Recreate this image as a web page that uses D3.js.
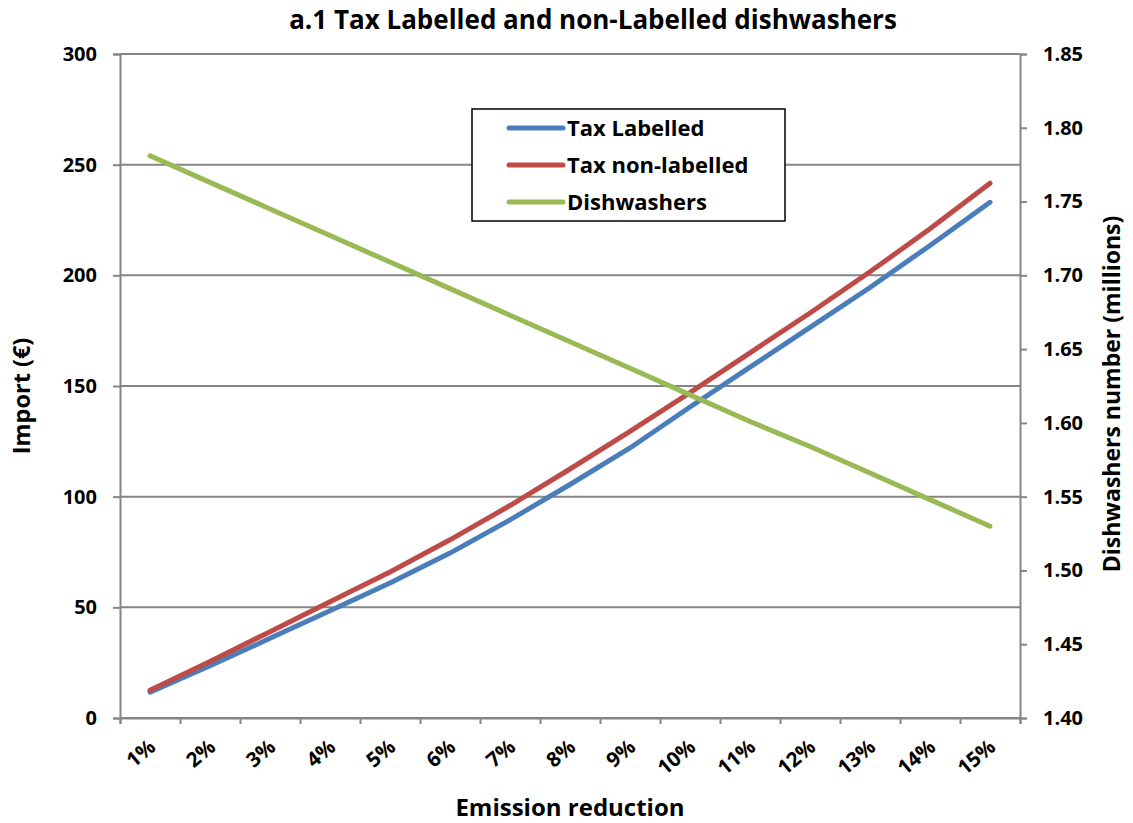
<!DOCTYPE html>
<html>
<head>
<meta charset="utf-8">
<script src="https://cdn.jsdelivr.net/npm/d3@7"></script>
<style>
  body { margin: 0; background: #fff; }
  text { font-family: "Open Sans", Lato, sans-serif; font-weight: bold; fill: #000; }
</style>
</head>
<body>
<div id="chart"></div>
<script>
// data
const categories = ["1%", "2%", "3%", "4%", "5%", "6%", "7%", "8%", "9%", "10%", "11%", "12%", "13%", "14%", "15%"];
const taxLabelled = [11.7, 23.6, 36.0, 48.5, 61.0, 74.5, 89.5, 105.5, 122.0, 140.5, 158.5, 176.5, 194.5, 213.5, 233.0];
const taxNonLabelled = [12.5, 25.5, 39.0, 52.5, 66.0, 80.5, 96.0, 112.5, 129.5, 147.0, 165.0, 183.0, 201.6, 221.0, 241.6];
const dishwashers = [1.781, 1.763, 1.745, 1.727, 1.709, 1.691, 1.673, 1.655, 1.637, 1.619, 1.601, 1.584, 1.566, 1.548, 1.530];
const leftTicks = [0, 50, 100, 150, 200, 250, 300];
const rightTicks = [1.40, 1.45, 1.50, 1.55, 1.60, 1.65, 1.70, 1.75, 1.80, 1.85];

const W = 1133, H = 823;
const margin = { top: 54, right: 113, bottom: 105, left: 120 };
const width = W - margin.left - margin.right,
    height = H - margin.top - margin.bottom;

const svg = d3.select("#chart").append("svg")
    .attr("width", W).attr("height", H);

const g = svg.append("g")
    .attr("transform", `translate(${margin.left},${margin.top})`);

const x = d3.scaleBand().domain(categories).range([0, width]).padding(0);
const xEdge = d3.scaleLinear().domain([0, categories.length]).range([0, width]);
const yLeft = d3.scaleLinear().domain([0, 300]).range([height, 0]);
const yRight = d3.scaleLinear().domain([1.40, 1.85]).range([height, 0]);

const axisColor = "#868686";

// gridlines
g.selectAll(".grid")
    .data(leftTicks)
    .join("line")
    .attr("x1", 0).attr("x2", width)
    .attr("y1", d => yLeft(d)).attr("y2", d => yLeft(d))
    .attr("stroke", axisColor).attr("stroke-width", 2);

// left axis
const gl = g.append("g")
    .call(d3.axisLeft(yLeft).tickValues(leftTicks).tickSize(7).tickPadding(16).tickFormat(d3.format("d")));
gl.selectAll("text").attr("font-size", 20);

// right axis
const gr = g.append("g")
    .attr("transform", `translate(${width},0)`)
    .call(d3.axisRight(yRight).tickValues(rightTicks).tickSize(7).tickPadding(16).tickFormat(d3.format(".2f")));
gr.selectAll("text").attr("font-size", 20);

// bottom axis: ticks on category boundaries
const gb = g.append("g")
    .attr("transform", `translate(0,${height})`)
    .call(d3.axisBottom(xEdge).tickValues(d3.range(categories.length + 1)).tickSize(6).tickFormat(""));

[gl, gr, gb].forEach(a => {
    a.select(".domain").attr("stroke", axisColor).attr("stroke-width", 2);
    a.selectAll(".tick line").attr("stroke", axisColor).attr("stroke-width", 2);
});

// category labels, rotated
g.selectAll(".xlab")
    .data(categories)
    .join("text")
    .attr("class", "xlab")
    .attr("font-size", 20.5)
    .attr("text-anchor", "end")
    .attr("transform", d => `translate(${x(d) + x.bandwidth() / 2 + 7},${height + 31}) rotate(-40)`)
    .text(d => d);

// lines
const lineL = d3.line()
    .x((d, i) => x(categories[i]) + x.bandwidth() / 2)
    .y(d => yLeft(d));
const lineR = d3.line()
    .x((d, i) => x(categories[i]) + x.bandwidth() / 2)
    .y(d => yRight(d));

const series = [
    { name: "Tax Labelled", values: taxLabelled, color: "#4A7EBB", line: lineL },
    { name: "Tax non-labelled", values: taxNonLabelled, color: "#BE4B48", line: lineL },
    { name: "Dishwashers", values: dishwashers, color: "#98B954", line: lineR }
];

series.forEach(s => {
    g.append("path")
        .datum(s.values)
        .attr("fill", "none")
        .attr("stroke", s.color)
        .attr("stroke-width", 5)
        .attr("stroke-linecap", "round")
        .attr("d", s.line);
});

// legend
const legend = svg.append("g").attr("transform", "translate(472,109)");
legend.append("rect")
    .attr("width", 313).attr("height", 112)
    .attr("fill", "#fff").attr("stroke", "#000").attr("stroke-width", 1.5);
series.forEach((s, i) => {
    const ly = 19 + i * 37;
    legend.append("line")
        .attr("x1", 37).attr("x2", 91)
        .attr("y1", ly).attr("y2", ly)
        .attr("stroke", s.color).attr("stroke-width", 5)
        .attr("stroke-linecap", "round");
    legend.append("text")
        .attr("x", 95).attr("y", ly)
        .attr("dy", "0.36em")
        .attr("font-size", 22)
        .text(s.name);
});

// titles
svg.append("text")
    .attr("x", 593).attr("y", 29)
    .attr("text-anchor", "middle")
    .attr("font-size", 26)
    .text("a.1 Tax Labelled and non-Labelled dishwashers");

svg.append("text")
    .attr("x", margin.left + width / 2).attr("y", 816)
    .attr("text-anchor", "middle")
    .attr("font-size", 24)
    .text("Emission reduction");

svg.append("text")
    .attr("transform", `translate(30,${margin.top + height / 2 + 10}) rotate(-90)`)
    .attr("text-anchor", "middle")
    .attr("font-size", 23.5)
    .text("Import (€)");

svg.append("text")
    .attr("transform", `translate(1120,${margin.top + height / 2 + 8}) rotate(-90)`)
    .attr("text-anchor", "middle")
    .attr("font-size", 23)
    .text("Dishwashers number (millions)");
</script>
</body>
</html>
